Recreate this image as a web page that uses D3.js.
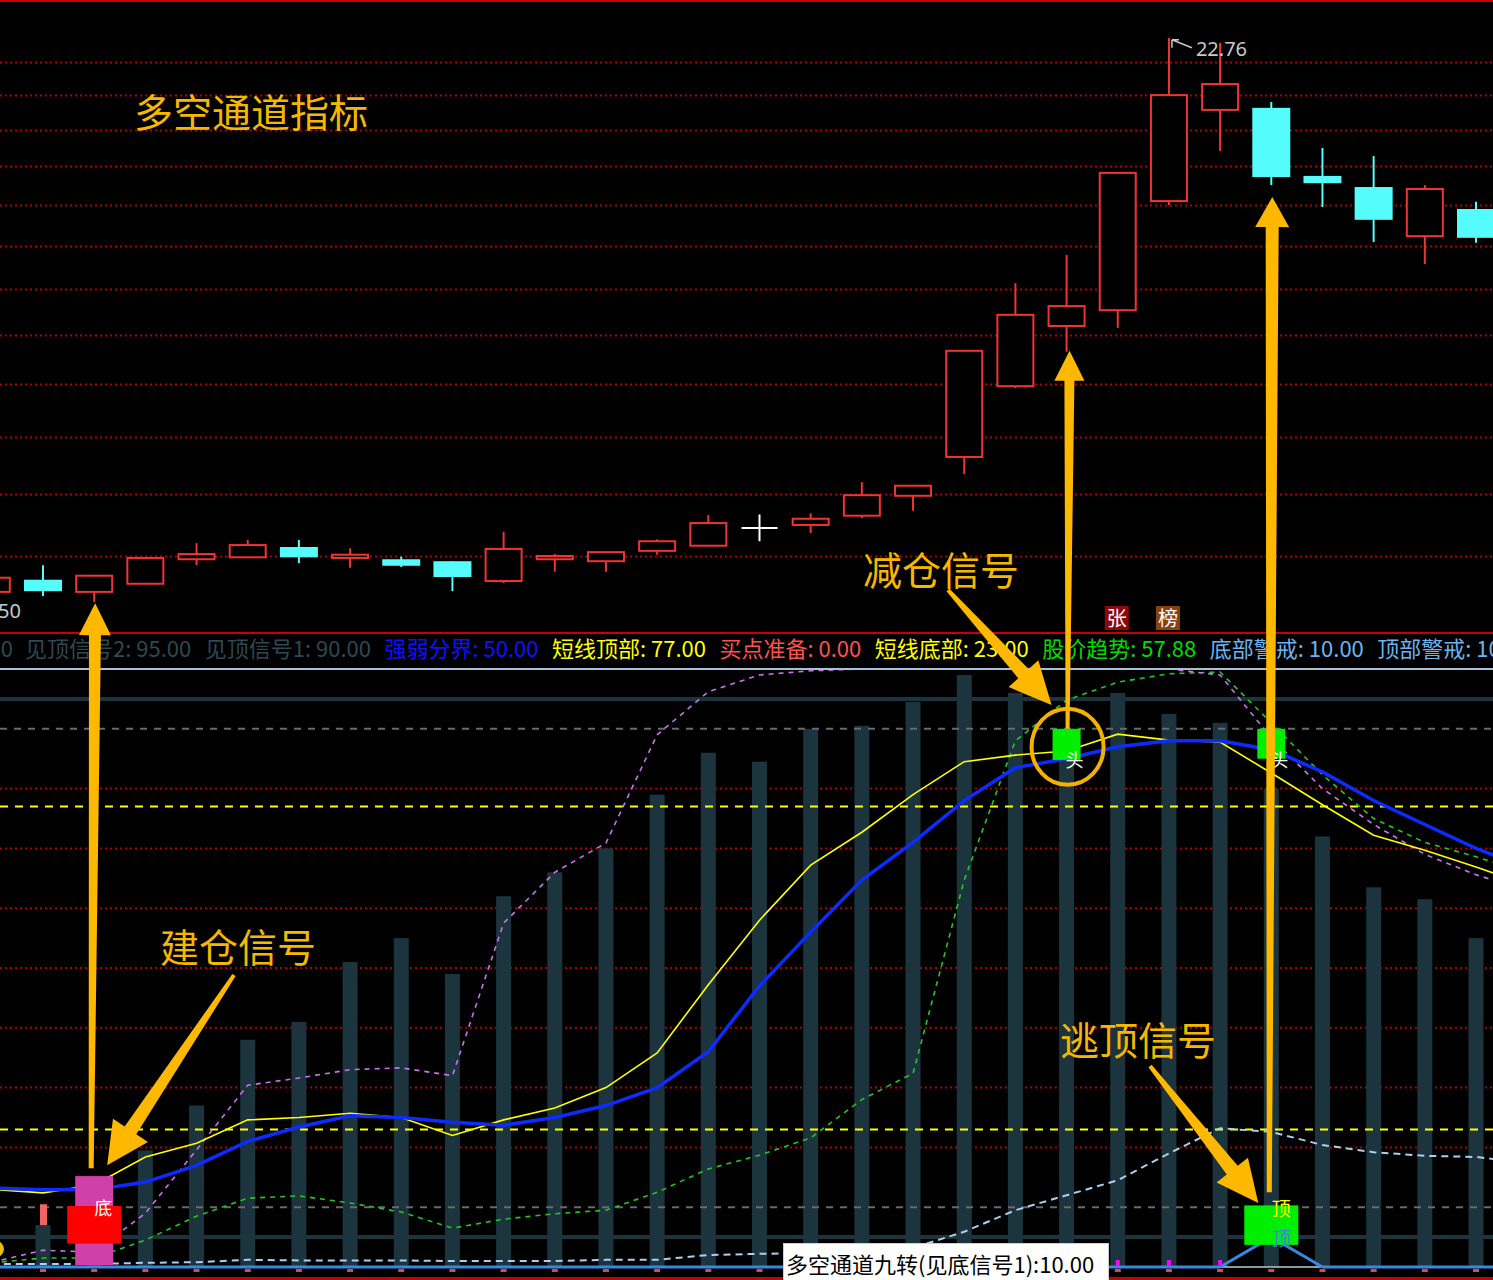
<!DOCTYPE html>
<html><head><meta charset="utf-8">
<script src="https://cdn.jsdelivr.net/npm/d3@7"></script>
<style>html,body{margin:0;padding:0;background:#000;overflow:hidden}</style>
</head><body><svg id="c" width="1493" height="1280"></svg>
<script>
// ---------------- DATA ----------------
const candleIdx = d3.range(30);
const open  = [10.46,10.64,10.46,10.58,10.95,10.98,11.14,10.97,10.95,10.92,10.62,10.95,10.92,11.08,11.16,11.44,11.49,11.64,11.97,12.64,13.96,15.19,15.53,18.10,20.57,20.63,18.75,18.46,17.23,17.90];
const high  = [10.70,10.86,10.70,10.97,11.20,11.25,11.25,11.12,10.99,10.92,11.38,11.03,11.06,11.26,11.65,11.66,11.68,12.20,12.14,14.67,16.13,16.78,18.83,22.76,22.60,20.80,19.50,19.28,18.51,18.08];
const low   = [10.44,10.40,10.31,10.58,10.86,10.98,10.89,10.82,10.83,10.47,10.59,10.76,10.76,11.02,11.16,11.23,11.36,11.60,11.72,12.34,13.92,14.65,15.15,18.00,19.42,18.51,17.95,17.09,16.57,17.07];
const close = [10.67,10.47,10.70,10.97,11.03,11.17,10.98,11.02,10.85,10.68,11.11,11.00,11.06,11.23,11.52,11.44,11.59,11.98,12.14,14.67,15.43,15.62,18.83,21.00,21.33,18.72,18.56,17.63,18.41,17.19];
const priceGrid = [11,12,13,14,15,16,17,18,19,20,21,22];
const highLabel = "22.76";
const lowLabel = "10.50";

// lower indicator panel (0-100)
const barValues = [0,7,12,19.5,27,38,41,51,55,49,62,66,70,79,86,84.5,90,90.5,94.5,99,96,90,96,92.5,91,80,72,63.5,61.5,55];
const trendLine  = [13.2,12.9,12.9,14.2,17,21,23.4,25.3,25,24.2,23.7,25,27,30,36,47,56,64.7,71,78,83.5,85,87,88,88,86.5,82.8,78,74,70,66.7];
const shortLine  = [13,12.4,13.7,18.4,20.7,24.6,25,25.7,25,22,24.6,26.6,30,35.8,47.2,58,67.2,72.7,79,84.5,85.6,86.3,89.1,88.1,87.8,82.6,77.3,72.2,69.7,66.9,63.9];
const purpleLine = [0.8,2.8,2.5,9,19.6,30.4,31.6,33,33.3,32,57.5,66,70.9,89,96.2,99,99.7,100,100,100,100,100,100,100,99,88.5,80,74,69,65.6,62.9];
const greenLine  = [0.7,1.5,1.5,4.5,8.5,11.5,11.9,10.7,9.2,6.5,8,8.9,9.5,12.5,16.4,18.7,21.6,28,32.4,64.7,88,94.8,97.8,99.2,99.5,91,82.3,75,71,68.6,65.9];
const lbLine     = [0.5,0.5,0.5,0.7,0.8,1.2,1.1,1.1,1.1,1.0,1.0,1.0,1.2,1.2,2,2.2,2.3,2.5,3.2,5.9,9.5,12,14.5,19,23.2,22.6,20.4,19.2,18.6,18.4,17.4];
const nineTurn   = [0,0,0,0,0,0,0,0,0,0,0,0,0,0,0,0,0,0,0,0,0,0,0,0,0,5,0,0,0,0,0];
const smallRed   = {index:1, from:7, to:10.5};
const magentaIdx = [22,23,24];
const refSolid   = [100,95,5];
const refGray    = [90,10];
const refYellow  = [77,23];
const refDotted  = [20,30,40,50,60,70,80];
const legendLabels = ["见底信号2: 5.00","见顶信号2: 95.00","见顶信号1: 90.00","强弱分界: 50.00","短线顶部: 77.00","买点准备: 0.00","短线底部: 23.00","股价趋势: 57.88","底部警戒: 10.00","顶部警戒: 10.00"];
const badges = [["张",22],["榜",23]];
// signals: [index, top value, bottom value]
const buyPink  = [2, 15.2, 0.3];
const buyRed   = [2, 10.2, 3.9];
const headBoxes = [[21, 90, 84.8],[25, 90, 85]];
const topBox   = [25, 10.3, 3.7];
const notes = {title:"多空通道指标", build:"建仓信号", reduce:"减仓信号", escape:"逃顶信号", tip:"多空通道九转(见底信号1):10.00"};

// ---------------- SCALES ----------------
const W = 1493, H = 1280;
const svg = d3.select('#c');
const x  = d3.scaleLinear().domain([1,29]).range([43,1476]);
const yP = d3.scaleLog().domain([11,22]).range([556,62]);
const yI = d3.scaleLinear().domain([0,100]).range([1267,669]);
const CJK = "'Noto Sans CJK SC','Noto Sans',sans-serif";

svg.append('rect').attr('width',W).attr('height',H).attr('fill','#000');

// ---------------- TOP PANEL ----------------
svg.append('g').selectAll('line').data(priceGrid).join('line')
  .attr('x1',0).attr('x2',W).attr('y1',d=>Math.round(yP(d))+0.5).attr('y2',d=>Math.round(yP(d))+0.5)
  .attr('stroke','#b00000').attr('stroke-width',2).attr('stroke-dasharray','2,3');

const RED = '#f03434', CYAN = '#54fcfc';
const cg = svg.append('g');
candleIdx.forEach(i=>{
  const cx = x(i), o=open[i], c=close[i], h=high[i], l=low[i];
  if (o === c) {
    cg.append('line').attr('x1',cx).attr('x2',cx).attr('y1',yP(h)).attr('y2',yP(l)).attr('stroke','#fff').attr('stroke-width',2);
    cg.append('line').attr('x1',cx-18).attr('x2',cx+18).attr('y1',yP(c)).attr('y2',yP(c)).attr('stroke','#fff').attr('stroke-width',2);
  } else if (c > o) {
    cg.append('line').attr('x1',cx).attr('x2',cx).attr('y1',yP(h)).attr('y2',yP(c)).attr('stroke',RED).attr('stroke-width',2);
    cg.append('line').attr('x1',cx).attr('x2',cx).attr('y1',yP(o)).attr('y2',yP(l)).attr('stroke',RED).attr('stroke-width',2);
    cg.append('rect').attr('x',cx-18).attr('width',36).attr('y',yP(c)).attr('height',Math.max(1,yP(o)-yP(c)))
      .attr('fill','#000').attr('stroke',RED).attr('stroke-width',2);
  } else {
    cg.append('line').attr('x1',cx).attr('x2',cx).attr('y1',yP(h)).attr('y2',yP(l)).attr('stroke',CYAN).attr('stroke-width',2);
    cg.append('rect').attr('x',cx-19).attr('width',38).attr('y',yP(o)).attr('height',Math.max(2,yP(c)-yP(o))).attr('fill',CYAN);
  }
});

// high / low labels
const iHi = d3.maxIndex(high), iLo = d3.minIndex(low);
{
  const hx = x(iHi)+3, hy = yP(high[iHi])+2;
  svg.append('path').attr('d',`M${hx+20},${hy+8} L${hx},${hy} M${hx},${hy} L${hx},${hy+8} M${hx},${hy} L${hx+7},${hy}`)
    .attr('stroke','#c8c8c8').attr('stroke-width',1.5).attr('fill','none');
  svg.append('text').attr('x',hx+24).attr('y',hy+9).attr('dominant-baseline','central')
    .attr('font-family',"'Noto Sans',sans-serif").attr('font-size',20).attr('fill','#c8c8c8').text(highLabel);
  svg.append('text').attr('x',21).attr('y',yP(low[iLo])+8).attr('text-anchor','end').attr('dominant-baseline','central')
    .attr('font-family',"'Noto Sans',sans-serif").attr('font-size',20).attr('fill','#c8c8c8').text(lowLabel);
}

// title
svg.append('text').attr('x',134).attr('y',110).attr('dominant-baseline','central')
  .attr('font-family',CJK).attr('font-size',39).attr('fill','#f5b800').text(notes.title);

// borders
svg.append('line').attr('x1',0).attr('x2',W).attr('y1',1).attr('y2',1).attr('stroke','#c80000').attr('stroke-width',2);
svg.append('line').attr('x1',0).attr('x2',W).attr('y1',633).attr('y2',633).attr('stroke','#c80000').attr('stroke-width',2);
svg.append('line').attr('x1',0).attr('x2',W).attr('y1',1278.5).attr('y2',1278.5).attr('stroke','#c80000').attr('stroke-width',3);

// badges 张 榜
const badgeColors = ['#8a0a0a','#8a4010'];
badges.forEach(([t,i],k)=>{
  const bx = x(i)-1;
  svg.append('rect').attr('x',bx-12).attr('y',606).attr('width',24).attr('height',24).attr('fill',badgeColors[k]);
  svg.append('text').attr('x',bx).attr('y',617).attr('text-anchor','middle').attr('dominant-baseline','central')
    .attr('font-family',CJK).attr('font-size',20).attr('fill','#fff').text(t);
});

// legend
{
  const colors = ['#2e4854','#2e4854','#2e4854','#1010ff','#ffff00','#ff5050','#ffff00','#00dd00','#6ab4f0','#6ab4f0'];
  const lg = svg.append('g').attr('font-family',CJK).attr('font-size',22);
  lg.append('text').attr('x',13).attr('y',647).attr('text-anchor','end').attr('dominant-baseline','central')
    .attr('fill',colors[0]).text(legendLabels[0]);
  let cx = 25;
  legendLabels.slice(1).forEach((t,k)=>{
    const el = lg.append('text').attr('x',cx).attr('y',647).attr('dominant-baseline','central').attr('fill',colors[k+1]).text(t);
    cx += el.node().getComputedTextLength() + 13.5;
  });
}

// ---------------- LOWER PANEL ----------------
svg.append('line').attr('x1',0).attr('x2',W).attr('y1',yI(100)).attr('y2',yI(100)).attr('stroke','#a8c0d8').attr('stroke-width',2);
svg.append('g').selectAll('line').data(refDotted).join('line')
  .attr('x1',0).attr('x2',W).attr('y1',d=>yI(d)).attr('y2',d=>yI(d))
  .attr('stroke','#b00000').attr('stroke-width',2).attr('stroke-dasharray','2,3');
svg.append('g').selectAll('line').data(refSolid.filter(d=>d<100)).join('line')
  .attr('x1',0).attr('x2',W).attr('y1',d=>yI(d)).attr('y2',d=>yI(d)).attr('stroke','#1c343e').attr('stroke-width',4);

// bars
svg.append('g').selectAll('rect').data(candleIdx.filter(i=>barValues[i]>0)).join('rect')
  .attr('x',i=>x(i)-7.5).attr('width',15).attr('y',i=>yI(barValues[i])).attr('height',i=>yI(0)-yI(barValues[i]))
  .attr('fill','#1c343e');

svg.append('g').selectAll('line').data(refYellow).join('line')
  .attr('x1',0).attr('x2',W).attr('y1',d=>yI(d)).attr('y2',d=>yI(d))
  .attr('stroke','#ffff00').attr('stroke-width',2).attr('stroke-dasharray','8,7');
svg.append('g').selectAll('line').data(refGray).join('line')
  .attr('x1',0).attr('x2',W).attr('y1',d=>yI(d)).attr('y2',d=>yI(d))
  .attr('stroke','#6a6a6a').attr('stroke-width',2).attr('stroke-dasharray','7,7');

// small red bar, magenta ticks, red ticks
svg.append('rect').attr('x',x(smallRed.index)-3).attr('width',7).attr('y',yI(smallRed.to)).attr('height',yI(smallRed.from)-yI(smallRed.to)).attr('fill','#f06464');
svg.append('g').selectAll('rect').data(candleIdx.slice(1)).join('rect')
  .attr('x',i=>x(i)-3).attr('width',6).attr('y',yI(0)+2).attr('height',3).attr('fill','#e04848');

// baseline (0) with nine-turn triangle
const tri = nineTurn.map((v,i)=>i).filter(i=>nineTurn[i]>0);
const lineGen = d3.line().x((d,i)=>x(i)).y(d=>yI(d));
const triL = x(tri[0]-1), triR = x(tri[tri.length-1]+1);
svg.append('line').attr('x1',0).attr('x2',triL).attr('y1',yI(0)).attr('y2',yI(0)).attr('stroke','#3a86e0').attr('stroke-width',3);
svg.append('line').attr('x1',triR).attr('x2',W).attr('y1',yI(0)).attr('y2',yI(0)).attr('stroke','#3a86e0').attr('stroke-width',3);
svg.append('line').attr('x1',triL).attr('x2',triR).attr('y1',yI(0)).attr('y2',yI(0)).attr('stroke','#b8c8d8').attr('stroke-width',1.5);
svg.append('path').attr('d',d3.line().x(i=>x(i)).y(i=>yI(nineTurn[i]))([tri[0]-1,...tri,tri[tri.length-1]+1]))
  .attr('fill','none').attr('stroke','#3a86e0').attr('stroke-width',3);
svg.append('g').selectAll('rect').data(magentaIdx).join('rect')
  .attr('x',i=>x(i)-2).attr('width',4).attr('y',yI(0)-7).attr('height',6).attr('fill','#ff00ff');

// lines
const addLine = (data,color,w,dash)=>svg.append('path').attr('d',lineGen(data)).attr('fill','none')
  .attr('stroke',color).attr('stroke-width',w).attr('stroke-dasharray',dash||null);
addLine(lbLine,'#a8d0f0',2,'7,5');
addLine(greenLine,'#22c822',1.6,'5,5');
addLine(purpleLine,'#c874ec',1.6,'5,5');
svg.append('line').attr('x1',0).attr('x2',W).attr('y1',yI(100)).attr('y2',yI(100)).attr('stroke','#a8c0d8').attr('stroke-width',2);
addLine(shortLine,'#ffff00',1.6);
addLine(trendLine,'#0c2cff',3.5);

// yellow dot at left edge
svg.append('circle').attr('cx',-4).attr('cy',yI(3)).attr('r',8).attr('fill','#e8c000');

// buy signal boxes
svg.append('rect').attr('x',x(buyPink[0])-19).attr('width',38).attr('y',yI(buyPink[1])).attr('height',yI(buyPink[2])-yI(buyPink[1])).attr('fill','#d040a8');
svg.append('rect').attr('x',x(buyRed[0])-27).attr('width',54).attr('y',yI(buyRed[1])).attr('height',yI(buyRed[2])-yI(buyRed[1])).attr('fill','#ff0000');
svg.append('text').attr('x',x(buyPink[0])+9).attr('y',yI(10)).attr('text-anchor','middle').attr('dominant-baseline','central')
  .attr('font-family',CJK).attr('font-size',18).attr('fill','#fff').text('底');

// head boxes
headBoxes.forEach(([i,t,b])=>{
  svg.append('rect').attr('x',x(i)-14).attr('width',28).attr('y',yI(t)).attr('height',yI(b)-yI(t)).attr('fill','#00ee00');
  svg.append('text').attr('x',x(i)+8).attr('y',yI(85)).attr('text-anchor','middle').attr('dominant-baseline','central')
    .attr('font-family',CJK).attr('font-size',18).attr('fill','#fff').text('头');
});
// top (escape) box
svg.append('rect').attr('x',x(topBox[0])-27).attr('width',54).attr('y',yI(topBox[1])).attr('height',yI(topBox[2])-yI(topBox[1])).attr('fill','#00ee00');
svg.append('text').attr('x',x(topBox[0])+10).attr('y',yI(10)).attr('text-anchor','middle').attr('dominant-baseline','central')
  .attr('font-family',CJK).attr('font-size',19).attr('fill','#ffff00').text('顶');
svg.append('text').attr('x',x(topBox[0])+10).attr('y',yI(5)).attr('text-anchor','middle').attr('dominant-baseline','central')
  .attr('font-family',CJK).attr('font-size',19).attr('fill','#3a86e0').text('顶');

// ring
svg.append('ellipse').attr('cx',x(headBoxes[0][0])+1).attr('cy',yI(87)).attr('rx',36).attr('ry',38)
  .attr('fill','none').attr('stroke','#f5b000').attr('stroke-width',4);

// ---------------- ARROWS & NOTES ----------------
const GOLD = '#ffb800';
function arrow(x1,y1,x2,y2,wT,wH,hl,hw){
  const dx=x2-x1, dy=y2-y1, L=Math.hypot(dx,dy), ux=dx/L, uy=dy/L, nx=-uy, ny=ux;
  const bx=x2-ux*hl, by=y2-uy*hl;
  const p=[[x1+nx*wT/2,y1+ny*wT/2],[bx+nx*wH/2,by+ny*wH/2],[bx+nx*hw/2,by+ny*hw/2],[x2,y2],
           [bx-nx*hw/2,by-ny*hw/2],[bx-nx*wH/2,by-ny*wH/2],[x1-nx*wT/2,y1-ny*wT/2]];
  svg.append('polygon').attr('points',p.map(q=>q.join(',')).join(' ')).attr('fill',GOLD);
}
// vertical arrows
arrow(x(2)-3, yI(16.5), x(2)+1, yP(low[2])+1, 5, 12, 32, 32);
arrow(x(21)+1, yI(90), x(21)+3, yP(low[21])-1, 4, 10, 30, 30);
arrow(x(25)-2, yI(12.5), x(25)+1, yP(low[25])+12, 5, 13, 30, 34);
// diagonal arrows
arrow(234, 975, x(2)+13, yI(17), 4, 14, 42, 42);
arrow(948, 590, x(21)-15, yI(94), 4, 14, 42, 40);
arrow(1150, 1066, x(25)-13, yI(10.7), 4, 14, 42, 40);

const noteStyle = s=>s.attr('font-family',CJK).attr('font-size',39).attr('fill','#f5b800').attr('dominant-baseline','central');
noteStyle(svg.append('text').attr('x',160).attr('y',945).text(notes.build));
noteStyle(svg.append('text').attr('x',863).attr('y',568).text(notes.reduce));
noteStyle(svg.append('text').attr('x',1060).attr('y',1038).text(notes.escape));

// tooltip box
svg.append('rect').attr('x',783.5).attr('y',1243.5).attr('width',325).attr('height',40).attr('fill','#fff').attr('stroke','#d0d0d0');
svg.append('text').attr('x',786).attr('y',1263).attr('dominant-baseline','central')
  .attr('font-family',CJK).attr('font-size',22).attr('fill','#000').text(notes.tip);
</script></body></html>
